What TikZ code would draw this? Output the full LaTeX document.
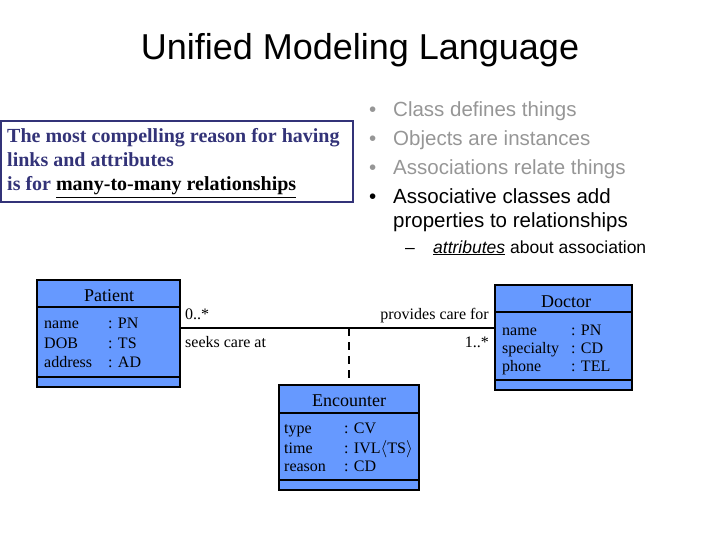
\documentclass[tikz,border=0pt]{standalone}
\usepackage{fontspec}
\setmainfont{Liberation Serif}
\newfontfamily\arialfont{Liberation Sans}
\definecolor{boxblue}{RGB}{102,153,255}
\definecolor{navy}{RGB}{51,51,120}
\definecolor{lgray}{RGB}{150,150,150}
\begin{document}
\begin{tikzpicture}[x=1pt,y=-1pt,
  classbox/.style={draw=black, line width=1.5pt, fill=boxblue, inner sep=0pt},
  divider/.style={line width=1.5pt},
  attr/.style={anchor=base west, inner sep=0pt, font=\fontsize{16}{18}\selectfont},
  hdr/.style={anchor=base, inner sep=0pt, font=\fontsize{18}{20}\selectfont},
  lbl/.style={inner sep=0pt, font=\fontsize{16}{18}\selectfont},
  notetxt/.style={anchor=base west, inner sep=0pt, text=navy, font=\bfseries\fontsize{20}{22}\selectfont},
  bul/.style={anchor=base west, inner sep=0pt, font=\arialfont\fontsize{20.5}{24}\selectfont},
  sub/.style={anchor=base west, inner sep=0pt, font=\arialfont\fontsize{17.5}{20}\selectfont}
]
\useasboundingbox (0,0) rectangle (720,540);
% title
\node[anchor=base, inner sep=0pt, font=\arialfont\fontsize{36}{40}\selectfont] (title) at (360,60) {Unified Modeling Language};

% note box
\node[draw=navy, line width=1.5pt, minimum width=352pt, minimum height=81pt, inner sep=0pt] (note) at (177,161.5) {};
\node[notetxt] (n1) at (7,143) {The most compelling reason for having};
\node[notetxt] (n2) at (7,167) {links and attributes};
\node[notetxt] (n3) at (7,191) {is for \textcolor{black}{\underline{many-to-many relationships}}};

% bullets
\node[bul, text=lgray] (b1d) at (369,117) {•};
\node[bul, text=lgray] (b1) at (393,117) {Class defines things};
\node[bul, text=lgray] (b2d) at (369,146) {•};
\node[bul, text=lgray] (b2) at (393,146) {Objects are instances};
\node[bul, text=lgray] (b3d) at (369,175) {•};
\node[bul, text=lgray] (b3) at (393,175) {Associations relate things};
\node[bul] (b4d) at (369,204) {•};
\node[bul] (b4) at (393,204) {Associative classes add};
\node[bul] (b4b) at (393,228) {properties to relationships};
\node[sub] (s1d) at (405,253) {–};
\node[sub] (s1) at (433,253) {\underline{\itshape attributes} about association};

% Patient
\node[classbox, minimum width=143pt, minimum height=107pt] (patient) at (108.5,333.5) {};
\draw[divider] (patient.west |- 0,307) -- (patient.east |- 0,307);
\draw[divider] (patient.west |- 0,377) -- (patient.east |- 0,377);
\node[hdr] (ph) at (109,301) {Patient};
\node[attr] (p1) at (44,328) {name};
\node[attr] (p1t) at (108,328) {: PN};
\node[attr] (p2) at (44,348) {DOB};
\node[attr] (p2t) at (108,348) {: TS};
\node[attr] (p3) at (44,367) {address};
\node[attr] (p3t) at (108,367) {: AD};

% Doctor
\node[classbox, minimum width=137pt, minimum height=105pt] (doctor) at (563.5,337.5) {};
\draw[divider] (doctor.west |- 0,312) -- (doctor.east |- 0,312);
\draw[divider] (doctor.west |- 0,380) -- (doctor.east |- 0,380);
\node[hdr] (dh) at (566,307) {Doctor};
\node[attr] (d1) at (502,335) {name};
\node[attr] (d1t) at (571,335) {: PN};
\node[attr] (d2) at (502,353) {specialty};
\node[attr] (d2t) at (571,353) {: CD};
\node[attr] (d3) at (502,371) {phone};
\node[attr] (d3t) at (571,371) {: TEL};

% Encounter
\node[classbox, minimum width=140pt, minimum height=105pt] (enc) at (349,437.5) {};
\draw[divider] (enc.west |- 0,413) -- (enc.east |- 0,413);
\draw[divider] (enc.west |- 0,480) -- (enc.east |- 0,480);
\node[hdr] (eh) at (349,406) {Encounter};
\node[attr] (e1) at (284,433) {type};
\node[attr] (e1t) at (344,433) {: CV};
\node[attr] (e2) at (284,453) {time};
\node[attr] (e2t) at (344,453) {: IVL$\langle$TS$\rangle$};
\node[attr] (e3) at (284,471) {reason};
\node[attr] (e3t) at (344,471) {: CD};

% association
\coordinate (mid) at (349,328);
\draw[divider] (patient.east |- mid) -- (doctor.west |- mid);
\draw[line width=2pt, dash pattern=on 8pt off 6pt] (mid) -- (enc.north);
\node[lbl, anchor=base west] (l1) at (185,319) {0..*};
\node[lbl, anchor=base east] (l2) at (489,319) {provides care for};
\node[lbl, anchor=base west] (l3) at (185,347) {seeks care at};
\node[lbl, anchor=base east] (l4) at (489,347) {1..*};
\end{tikzpicture}
\end{document}
